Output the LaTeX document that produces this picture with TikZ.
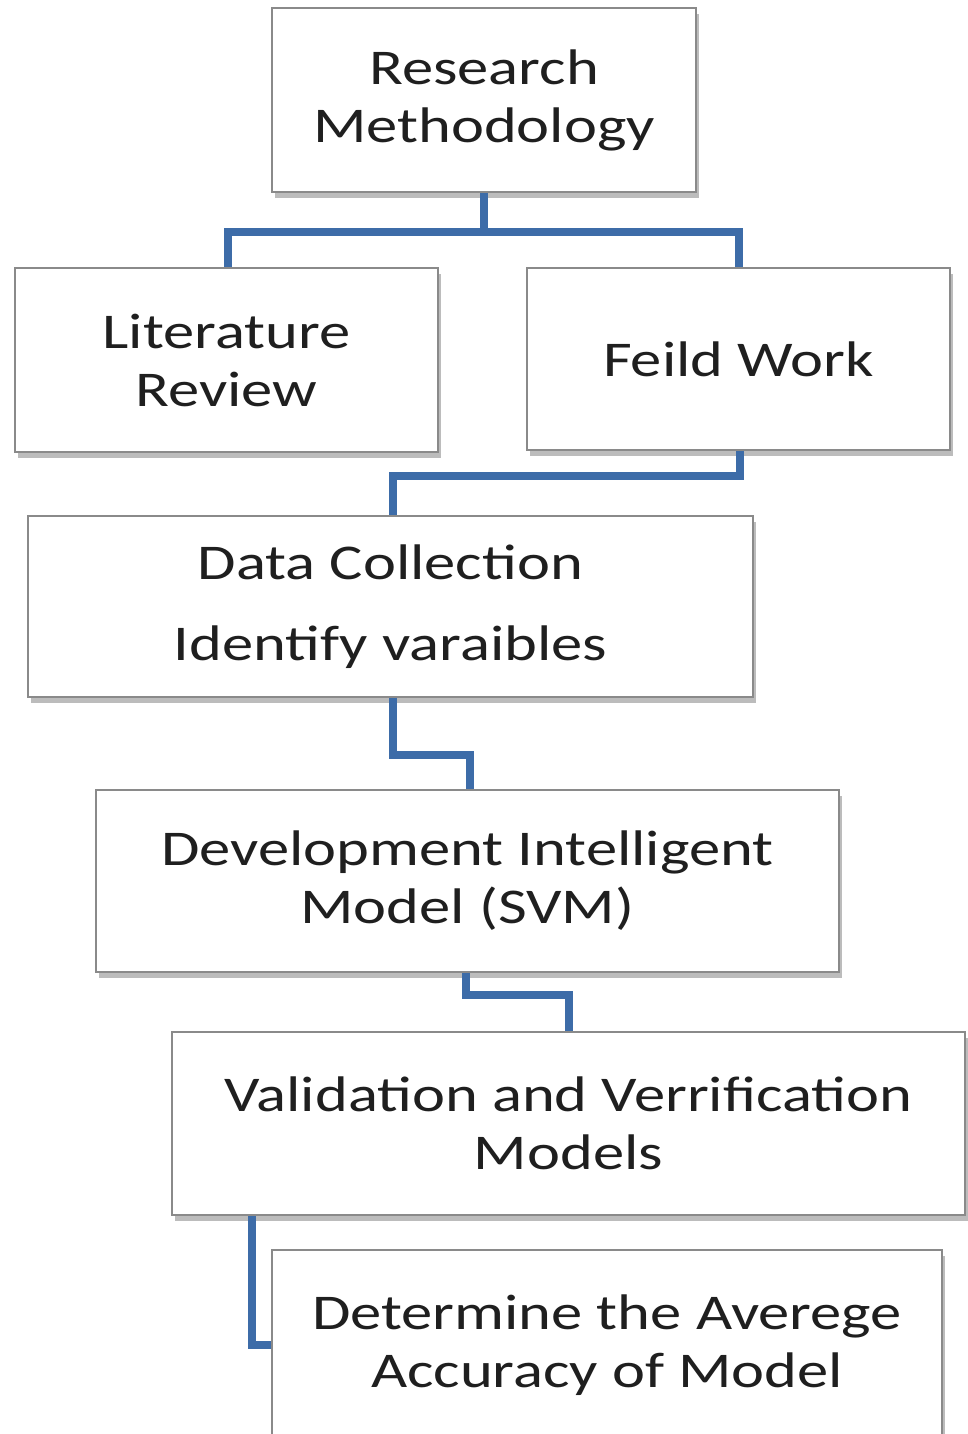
\documentclass[tikz,border=0pt]{standalone}
\usepackage{fontspec}
\setmainfont[FakeStretch=1.25]{Carlito}
\usetikzlibrary{shadows}
\definecolor{connblue}{HTML}{3D6CA8}
\definecolor{boxgray}{HTML}{8A8A8A}
\begin{document}
\begin{tikzpicture}[x=1pt,y=-1pt,
  stepbox/.style={draw=boxgray, line width=2pt, fill=white, align=center,
    inner sep=0pt, font=\fontsize{50}{58}\selectfont, text=black!88,
    drop shadow={shadow xshift=3pt, shadow yshift=-6pt, opacity=0.4, fill=black!65}},
  conn/.style={draw=connblue, line width=8pt, line cap=butt, line join=miter}]
\useasboundingbox (0,0) rectangle (968,1434);
\fill[white] (0,0) rectangle (968,1434);

\node[stepbox, minimum width=424pt, minimum height=184pt] (rm) at (484,100)
  {Research\\Methodology};
\node[stepbox, minimum width=423pt, minimum height=184pt] (lr) at (226.5,360)
  {Literature\\Review};
\node[stepbox, minimum width=423pt, minimum height=182pt] (fw) at (738.5,359)
  {Feild Work};
\node[stepbox, minimum width=725pt, minimum height=181pt,
  font=\fontsize{50}{81}\selectfont] (dc) at (390.5,606.5)
  {Data Collection\\Identify varaibles};
\node[stepbox, minimum width=743pt, minimum height=182pt] (dim) at (467.5,881)
  {Development Intelligent\\Model (SVM)};
\node[stepbox, minimum width=793pt, minimum height=183pt] (val) at (568.5,1123.5)
  {Validation and Verrification\\Models};
\node[stepbox, minimum width=670pt, minimum height=190pt] (det) at (607,1345)
  {Determine the Averege\\Accuracy of Model};

\draw[conn] (rm.south) -- (rm.south |- 0,232) -| (lr.north -| 228,0);
\draw[conn] (rm.south |- 0,232) -| (fw.north);
\draw[conn] (fw.south -| 740,0) -- (740,476) -| (dc.north -| 393,0);
\draw[conn] (dc.south -| 393,0) -- (393,755) -| (dim.north -| 470,0);
\draw[conn] (dim.south -| 466,0) -- (466,995) -| (val.north);
\draw[conn] (val.south -| 252,0) |- (det.west);
\end{tikzpicture}
\end{document}
